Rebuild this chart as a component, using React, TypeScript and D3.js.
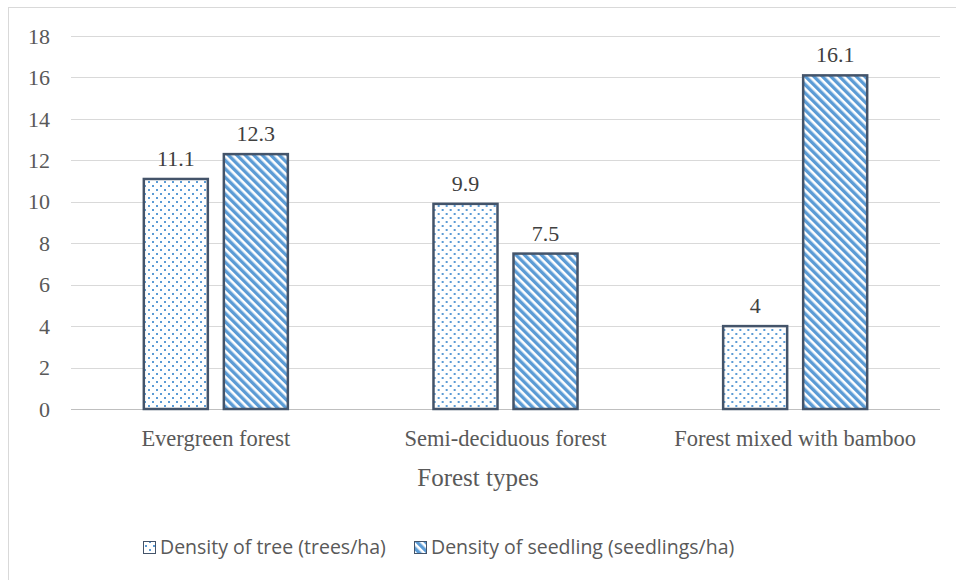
import React from 'react';
import * as d3 from 'd3';

const categories = ['Evergreen forest', 'Semi-deciduous forest', 'Forest mixed with bamboo'];
const seriesNames = ['Density of tree (trees/ha)', 'Density of seedling (seedlings/ha)'];
const treeDensity = [11.1, 9.9, 4];
const seedlingDensity = [12.3, 7.5, 16.1];
const yTicks = [0, 2, 4, 6, 8, 10, 12, 14, 16, 18];
const xTitle = 'Forest types';

const W = 956;
const H = 580;
const left = 71;
const right = 940;
const top = 36;
const bottom = 409;

const serif = '"Liberation Serif", "Times New Roman", serif';
const sans = '"Open Sans", "Noto Sans", sans-serif';
const blue = '#5B9BD5';
const edge = '#44546A';

export default function App() {
  const x = d3.scaleBand().domain(categories).range([left, right]);
  const xs = d3.scaleBand().domain(seriesNames).range([0, x.bandwidth()]).paddingInner(0.2).paddingOuter(0.91);
  const y = d3.scaleLinear().domain([0, 18]).range([bottom, top]);

  const rows = categories.map((c, i) => ({ c, vals: [treeDensity[i], seedlingDensity[i]] }));
  const fills = ['url(#dots)', 'url(#stripes)'];
  const legendX = [143, 414];

  return (
    <>
      <style>{`body{margin:0;overflow:hidden}`}</style>
      <svg width={W} height={H} style={{ display: 'block', background: '#fff' }}>
        <defs>
          <pattern id="dots" width={8} height={8} patternUnits="userSpaceOnUse">
            <rect width={8} height={8} fill="#fff" />
            <rect x={1} y={1} width={2} height={2} fill={blue} />
            <rect x={5} y={5} width={2} height={2} fill={blue} />
          </pattern>
          <pattern id="stripes" width={6} height={6} patternUnits="userSpaceOnUse" patternTransform="rotate(-45)">
            <rect width={6} height={6} fill="#fff" />
            <rect width={3.4} height={6} fill={blue} />
          </pattern>
        </defs>

        <rect x={8.5} y={7.5} width={1000} height={1000} fill="none" stroke="#D9D9D9" />

        {yTicks.map(t => (
          <g key={t}>
            <line x1={left} x2={right} y1={Math.round(y(t)) + 0.5} y2={Math.round(y(t)) + 0.5}
              stroke={t === 0 ? '#BFBFBF' : '#D9D9D9'} />
            <text x={50} y={y(t)} dy="0.35em" textAnchor="end" fontFamily={serif} fontSize={22} fill="#595959">
              {t}
            </text>
          </g>
        ))}

        {rows.map(r => (
          <g key={r.c} transform={`translate(${x(r.c)},0)`}>
            {r.vals.map((v, j) => (
              <g key={j}>
                <rect x={xs(seriesNames[j])} y={y(v)} width={xs.bandwidth()} height={y(0) - y(v)}
                  fill={fills[j]} stroke={edge} strokeWidth={2.5} />
                <text x={(xs(seriesNames[j]) as number) + xs.bandwidth() / 2} y={y(v) - 13}
                  textAnchor="middle" fontFamily={serif} fontSize={22} fill="#404040">
                  {v}
                </text>
              </g>
            ))}
            <text x={x.bandwidth() / 2} y={446} textAnchor="middle" fontFamily={serif} fontSize={22.5} fill="#595959">
              {r.c}
            </text>
          </g>
        ))}

        <text x={478} y={486} textAnchor="middle" fontFamily={serif} fontSize={25} fill="#595959">
          {xTitle}
        </text>

        {seriesNames.map((s, j) => {
          const lx = legendX[j];
          return (
            <g key={s}>
              <rect x={lx + 0.5} y={541.5} width={12} height={12} fill={fills[j]} stroke={edge} strokeWidth={1} />
              <text x={lx + 17} y={554} fontFamily={sans} fontSize={19.5} fill="#595959">
                {s}
              </text>
            </g>
          );
        })}
      </svg>
    </>
  );
}
